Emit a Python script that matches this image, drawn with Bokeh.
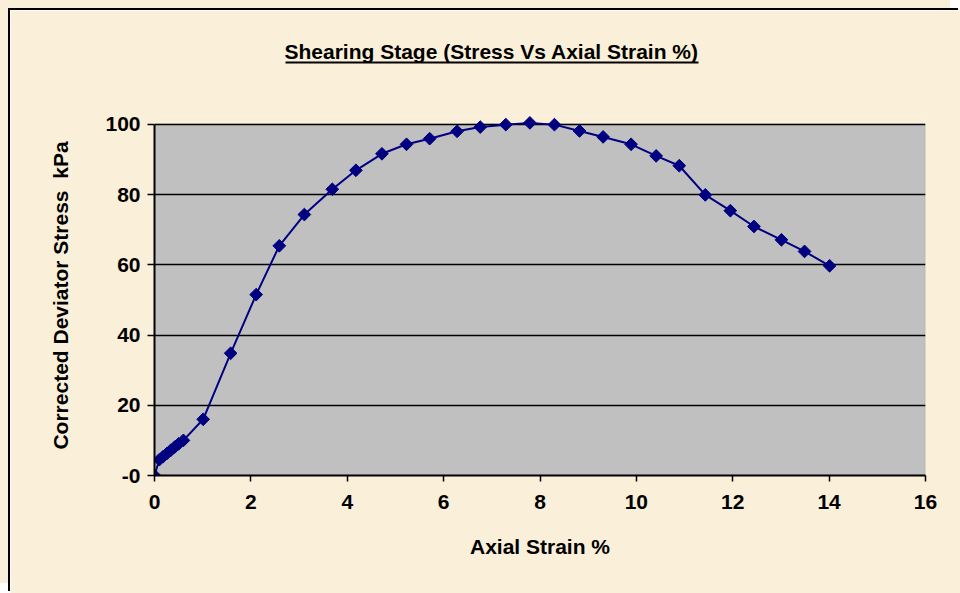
from bokeh.plotting import figure
from bokeh.models import (Range1d, FixedTicker, LinearAxis, Title, BoxAnnotation)
from bokeh.embed import file_html
from bokeh.resources import INLINE
import numpy as np

# Shearing stage: axial strain (%) against corrected deviator stress (kPa)
strain = [0.0, 0.10, 0.18, 0.26, 0.34, 0.42, 0.50, 0.60,
          1.01, 1.58, 2.11, 2.59, 3.11, 3.69, 4.18,
          4.72, 5.23, 5.71, 6.28, 6.76, 7.29, 7.79, 8.30,
          8.82, 9.31, 9.89, 10.41, 10.89,
          11.43, 11.95, 12.44, 13.01, 13.49, 14.01]
stress = [0.0, 4.5, 5.4, 6.3, 7.2, 8.1, 9.0, 10.0,
          16.0, 34.8, 51.5, 65.4, 74.3, 81.5, 86.9,
          91.6, 94.3, 95.9, 98.0, 99.2, 99.9, 100.4, 99.9,
          98.1, 96.4, 94.3, 91.0, 88.2,
          79.9, 75.4, 70.9, 67.1, 63.8, 59.7]

x_ticks = [0, 2, 4, 6, 8, 10, 12, 14, 16]
y_ticks = [0, 20, 40, 60, 80, 100]
y_tick_labels = {0: "-0"}

title_text = "Shearing Stage (Stress Vs Axial Strain %)"
x_title = "Axial Strain %"
y_title = "Corrected Deviator Stress \u00a0kPa"

PAPER = "#FAEFD8"
FONT = "Liberation Sans"
FS = "21px"

# the figure sits 10px in from the page corner; a thin black rule and the
# paper colour are painted in that strip by the host element's shadows
p = figure(width=950, height=583, output_backend="svg", toolbar_location=None,
           x_range=Range1d(0, 16), y_range=Range1d(0, 102.5),
           min_border_left=144, min_border_right=35,
           min_border_top=105, min_border_bottom=118)
p.styles = {"margin-left": "10px", "margin-top": "10px",
            "box-shadow": f"-2px -2px 0 0 black, -10px -10px 0 0 {PAPER}"}
p.title.visible = False
p.border_fill_color = PAPER
p.background_fill_color = PAPER
p.outline_line_color = None

# frame-pixel range used for the title underline and spacing rule
p.extra_x_ranges = {"px": Range1d(154, 925)}

# grey plotting area up to the 100 kPa line
p.add_layout(BoxAnnotation(left=0, right=16, bottom=0, top=100,
                           fill_color="#C0C0C0", fill_alpha=1.0,
                           line_color="#808080", line_width=1.5,
                           level="image"))

# axes
for ax in (p.xaxis[0], p.yaxis[0]):
    ax.axis_line_color = "black"
    ax.axis_line_width = 2
    ax.major_tick_line_color = "black"
    ax.major_tick_line_width = 1.5
    ax.major_tick_in = 0
    ax.minor_tick_line_color = None
    ax.major_label_text_font = FONT
    ax.major_label_text_font_style = "bold"
    ax.major_label_text_font_size = FS
    ax.major_label_text_color = "black"
    ax.axis_label_text_font = FONT
    ax.axis_label_text_font_style = "bold"
    ax.axis_label_text_font_size = FS
    ax.axis_label_text_color = "black"

p.xaxis.ticker = FixedTicker(ticks=x_ticks)
p.xaxis.major_tick_out = 6
p.xaxis.major_label_standoff = 13
p.xaxis.axis_label = x_title
p.xaxis.axis_label_standoff = 23

p.yaxis.ticker = FixedTicker(ticks=y_ticks)
p.yaxis.bounds = (0, 100)
p.yaxis.major_label_overrides = y_tick_labels
p.yaxis.major_tick_out = 7
p.yaxis.major_label_standoff = 7
p.yaxis.axis_label = y_title
p.yaxis.axis_label_standoff = 30

p.xgrid.grid_line_color = None
p.ygrid.ticker = FixedTicker(ticks=y_ticks)
p.ygrid.grid_line_color = "black"
p.ygrid.grid_line_width = 1.5

# spacing between the frame and the title: one paper-coloured tick at the
# frame's left corner, 53px long, with no label
p.add_layout(LinearAxis(x_range_name="px", ticker=FixedTicker(ticks=[154]),
                        major_label_overrides={154: ""},
                        major_tick_out=53, major_tick_in=0,
                        major_label_standoff=0,
                        major_tick_line_color=PAPER,
                        minor_tick_line_color=None,
                        axis_line_color=None), "above")
# title underline
p.add_layout(LinearAxis(x_range_name="px", bounds=(285, 698),
                        ticker=FixedTicker(ticks=[]),
                        major_tick_out=0, major_tick_in=0,
                        major_label_standoff=0,
                        major_tick_line_color=None,
                        minor_tick_line_color=None,
                        axis_line_color="black", axis_line_width=2), "above")
p.add_layout(Title(text=title_text, align="left", offset=130, standoff=0,
                   text_font=FONT, text_font_style="bold",
                   text_font_size=FS, text_color="black"), "above")

# data
p.line(strain, stress, line_color="#000080", line_width=2)
p.scatter(strain, stress, marker="square", angle=np.pi / 4, size=9,
          fill_color="#000080", line_color="#000080")

open("out.html", "w").write(file_html(p, INLINE))
